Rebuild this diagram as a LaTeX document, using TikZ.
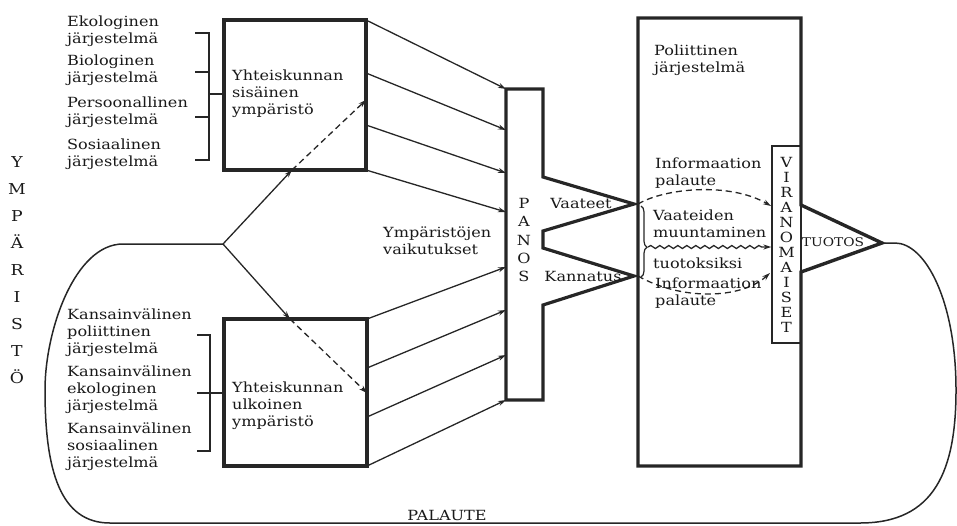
\documentclass[tikz,border=0pt]{standalone}
\usepackage{fontspec}
\setmainfont{DejaVu Serif}[FakeStretch=1.15]
\usetikzlibrary{arrows.meta,positioning,decorations.pathreplacing,decorations.pathmorphing}

\begin{document}
\begin{tikzpicture}[x=1pt,y=-1pt,>={Stealth[length=8pt,width=5pt]},
    teksti/.style={font=\fontsize{14}{17}\selectfont,align=left,inner sep=0pt,text=black!90},
    laatikko/.style={draw=black!85,line width=3.2pt,inner sep=0pt},
    nuoli/.style={->,draw=black!85,line width=1.3pt},
    katko/.style={nuoli,dash pattern=on 6pt off 4pt},
    sulku/.style={draw=black!85,line width=2pt}]
\useasboundingbox (0,0) rectangle (957,525);

\node[laatikko,minimum width=142pt,minimum height=150pt] (sis) at (295,95) {};
\node[laatikko,minimum width=143pt,minimum height=147pt] (ulk) at (295.5,392.5) {};

\draw[laatikko,line join=miter] (506,89) -- (543,89) -- (543,177) -- (634,204) -- (543,231) -- (543,248)
    -- (634,276) -- (543,305) -- (543,400) -- (506,400) -- cycle;
\draw[laatikko,line width=3.4pt] (638,18) -- (801,18) -- (801,205) -- (882,243) -- (801,272)
    -- (801,466) -- (638,466) -- cycle;
\node[draw=black!85,line width=1.3pt,minimum width=29pt,minimum height=197pt,inner sep=0pt,align=center,
    text=black!90,font=\fontsize{14}{15}\selectfont] (viran) at (786.5,244.5) {V\\I\\R\\A\\N\\O\\M\\A\\I\\S\\E\\T};

\coordinate (haara) at (223,244);
\coordinate (ylos) at (292,170);
\coordinate (sisraja) at (366,100);
\coordinate (alas) at (290,319);
\coordinate (ulkraja) at (367,393);
\coordinate (vaateet) at (638,204);
\coordinate (kannatus) at (638,276);
\coordinate (tuotos) at (885,243);
\coordinate (vtulo) at (771,206);
\coordinate (ktulo) at (770,273);
\coordinate (aalto) at (648,247);
\foreach \i/\a/\b in {0/20/89,1/73/130,2/125/173,3/170/212} {
    \coordinate (s\i) at (366,\a);
    \coordinate (p\i) at (506,\b);
}
\foreach \i/\a/\b in {0/319/267,1/368/310,2/417/355,3/466/400} {
    \coordinate (u\i) at (367,\a);
    \coordinate (q\i) at (506,\b);
}
\foreach \i in {0,...,3} {
    \draw[nuoli] (s\i) -- (p\i);
    \draw[nuoli] (u\i) -- (q\i);
}

\draw[nuoli] (haara) -- (ylos);
\draw[katko] (ylos) -- (sisraja);
\draw[nuoli] (haara) -- (alas);
\draw[katko] (alas) -- (ulkraja);

\draw[draw=black!85,line width=1.5pt] (tuotos) -- (895,243) .. controls (925,243) and (956,300) .. (956,390)
    .. controls (956,470) and (935,523) .. (860,523) -- (110,523) .. controls (60,523) and (45,470) .. (45,390)
    .. controls (45,330) and (75,244) .. (123,244) -- (haara);

\draw[sulku] (195,33) -- (209,33) -- (209,160) -- (195,160);
\draw[sulku] (195,72) -- (209,72);
\draw[sulku] (195,117) -- (209,117);
\draw[sulku] (209,94) -- (sis.west |- 0,94);
\draw[sulku] (197,335) -- (210,335) -- (210,451) -- (197,451);
\draw[sulku] (197,393) -- (ulk.west |- 0,393);

\draw[draw=black!85,line width=1.2pt,decorate,decoration={brace,amplitude=6pt,aspect=0.58}] (641,206) -- (641,277);
\draw[nuoli,decorate,decoration={snake,amplitude=1.5pt,segment length=9pt,post length=8pt}] (aalto) -- (viran.west |- aalto);
\draw[katko] (vaateet) .. controls (665,188) and (730,182) .. (vtulo);
\draw[katko] (kannatus) .. controls (680,300) and (740,300) .. (ktulo);

\begin{scope}[every node/.style={teksti,anchor=west}]
    \node (eko) at (67,31) {Ekologinen\\järjestelmä};
    \node (bio) at (67,70) {Biologinen\\järjestelmä};
    \node (pers) at (67,112) {Persoonallinen\\järjestelmä};
    \node (sos) at (67,154) {Sosiaalinen\\järjestelmä};
    \node (kpol) at (67,333) {Kansainvälinen\\poliittinen\\järjestelmä};
    \node (keko) at (67,390) {Kansainvälinen\\ekologinen\\järjestelmä};
    \node (ksos) at (67,447) {Kansainvälinen\\sosiaalinen\\järjestelmä};
    \node (sisteksti) at (232,94) {Yhteiskunnan\\sisäinen\\ympäristö};
    \node (ulkteksti) at (232,406) {Yhteiskunnan\\ulkoinen\\ympäristö};
    \node (vaik) at (383,241) {Ympäristöjen\\vaikutukset};
    \node (pol) at (654,60) {Poliittinen\\järjestelmä};
    \node (info1) at (655,173) {Informaation\\palaute};
    \node (muunto) at (653,224) {Vaateiden\\muuntaminen};
    \node (tuotok) at (653,263) {tuotoksiksi};
    \node (info2) at (655,293) {Informaation\\palaute};
\end{scope}
\node[teksti,align=center,font=\fontsize{15}{27}\selectfont] (ymp) at (17,270) {Y\\M\\P\\Ä\\R\\I\\S\\T\\Ö};
\node[teksti,align=center,font=\fontsize{14}{18.3}\selectfont] (panos) at (524,240) {P\\A\\N\\O\\S};
\node[teksti] (vaateteksti) at (581,203) {Vaateet};
\node[teksti] (kannteksti) at (583,276) {Kannatus};
\node[teksti,font=\fontsize{12}{14}\selectfont] (tuotosteksti) at (833,242) {TUOTOS};
\node[teksti] (palaute) at (447,515) {PALAUTE};
\end{tikzpicture}
\end{document}
